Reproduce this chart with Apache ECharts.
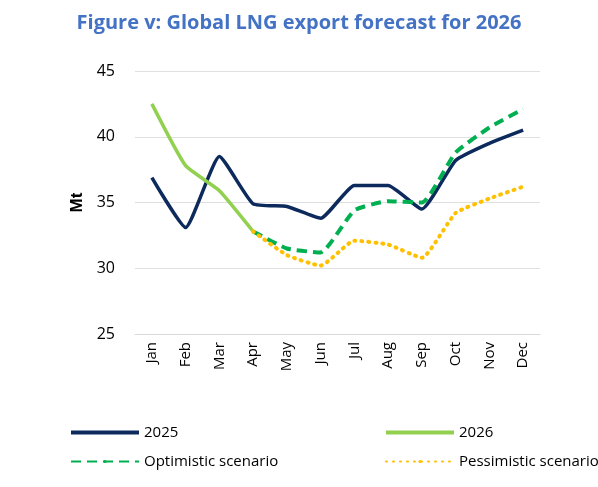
<!DOCTYPE html><html><head><meta charset="utf-8"><script src="https://cdn.jsdelivr.net/npm/echarts@6/dist/echarts.min.js"></script></head><body style="margin:0"><div id="c" style="width:598px;height:487px"></div><script>
const months=['Jan','Feb','Mar','Apr','May','Jun','Jul','Aug','Sep','Oct','Nov','Dec'];
const s2025=[36.9,33.1,38.5,34.9,34.7,33.8,36.3,36.3,34.5,38.2,39.5,40.5];
const s2026=[42.5,37.8,35.9,32.8,null,null,null,null,null,null,null,null];
const optimistic=[null,null,null,32.8,31.5,31.2,34.4,35.1,35.0,38.8,40.7,42.1];
const pessimistic=[null,null,null,32.8,31.0,30.2,32.1,31.8,30.8,34.2,35.3,36.2];
const ch=echarts.init(document.getElementById('c'));
const ls=(c,t,w)=>({color:c,type:t,width:w});
const lt={fontSize:15,color:'#000',fontFamily:'Open Sans'};
ch.setOption({
title:{text:'Figure v: Global LNG export forecast for 2026',left:'center',top:8,textStyle:{color:'#4472C4',fontSize:20,fontWeight:'bold',fontFamily:'Open Sans'}},
grid:{left:135,right:58,top:71,bottom:153},
xAxis:{type:'category',data:months,boundaryGap:true,axisTick:{show:false},axisLine:{lineStyle:{color:'#d9d9d9'}},axisLabel:{rotate:90,color:'#000',fontSize:15,fontFamily:'Open Sans'}},
yAxis:{type:'value',min:25,max:45,interval:5,name:'Mt',nameLocation:'middle',nameGap:45,nameTextStyle:{fontSize:17,fontWeight:'bold',color:'#000'},axisLabel:{color:'#000',fontSize:16,margin:20,fontFamily:'Open Sans'},splitLine:{lineStyle:{color:'#e0e0e0'}}},
legend:[
{left:65,top:420,orient:'vertical',itemGap:14,itemWidth:68,itemHeight:4,textStyle:lt,data:[{name:'2025',icon:'rect'},{name:'Optimistic scenario'}]},
{left:380,top:420,orient:'vertical',itemGap:14,itemWidth:68,itemHeight:4,textStyle:lt,data:[{name:'2026',icon:'rect'},{name:'Pessimistic scenario'}]}
],
series:[
{name:'2025',type:'line',data:s2025,smooth:0.15,symbol:'none',color:'#0d2a5c',lineStyle:ls('#0d2a5c','solid',3.5)},
{name:'2026',type:'line',data:s2026,smooth:0.15,symbol:'none',color:'#92d050',lineStyle:ls('#92d050','solid',3.5)},
{name:'Optimistic scenario',type:'line',data:optimistic,smooth:0.15,symbol:'none',color:'#00b050',lineStyle:ls('#00b050',[10,6],4)},
{name:'Pessimistic scenario',type:'line',data:pessimistic,smooth:0.15,symbol:'none',color:'#ffc000',lineStyle:Object.assign(ls('#ffc000',[1,6],4),{cap:'round'})}
]});
</script></body></html>
